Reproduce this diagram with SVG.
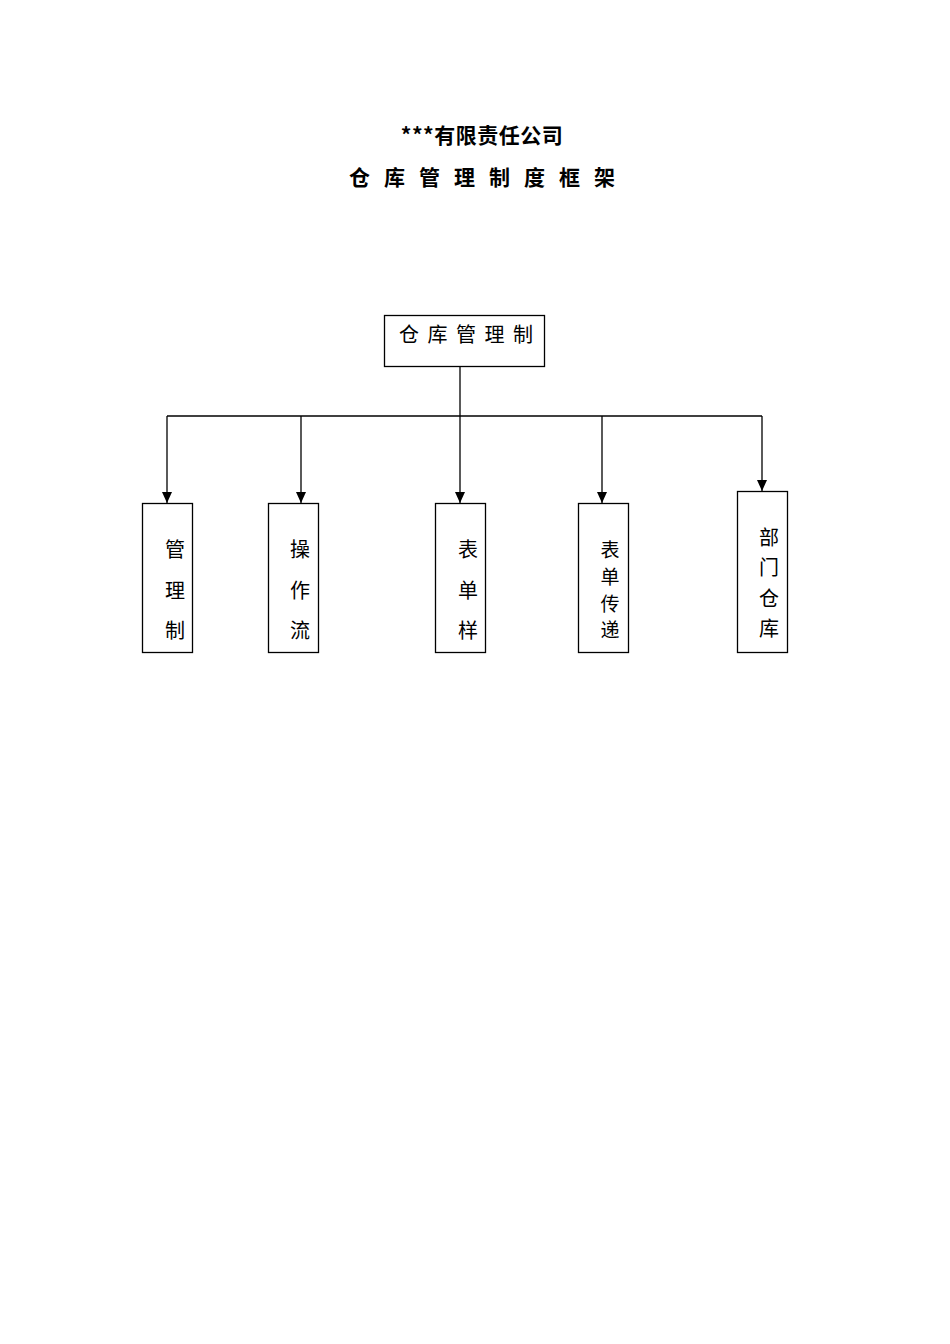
<svg xmlns="http://www.w3.org/2000/svg" width="950" height="1344" viewBox="0 0 950 1344">
<style>
.t{font-family:"Noto Sans CJK SC","Liberation Sans",sans-serif;fill:#000}
.h{font-weight:bold;text-anchor:middle}
.box{fill:#fff;stroke:#000;stroke-width:1.3}
.ln{fill:none;stroke:#000;stroke-width:1.3}
.v{font-size:20px;text-anchor:middle}
.s{font-size:19px}
</style>
<defs>
<marker id="ar" markerWidth="12" markerHeight="10" refX="11" refY="5" orient="auto" markerUnits="userSpaceOnUse" viewBox="0 0 12 10">
<path d="M0,0 L11,5 L0,10 Z" fill="#000"/>
</marker>
</defs>
<rect width="950" height="1344" fill="#fff"/>
<g id="title">
<text class="t h" x="482" y="143" font-size="21" letter-spacing="0.5">***有限责任公司</text>
<text class="t h" x="489" y="185" font-size="21" letter-spacing="14">仓库管理制度框架</text>
</g>
<g id="connectors">
<line class="ln" x1="460" y1="366" x2="460" y2="416"/>
<line class="ln" x1="167" y1="416" x2="762" y2="416"/>
<line class="ln" x1="167" y1="416" x2="167" y2="503" marker-end="url(#ar)"/>
<line class="ln" x1="301" y1="416" x2="301" y2="503" marker-end="url(#ar)"/>
<line class="ln" x1="460" y1="416" x2="460" y2="503" marker-end="url(#ar)"/>
<line class="ln" x1="602" y1="416" x2="602" y2="503" marker-end="url(#ar)"/>
<line class="ln" x1="762" y1="416" x2="762" y2="491" marker-end="url(#ar)"/>
</g>
<g id="root">
<rect class="box" x="384.5" y="315.5" width="160" height="51"/>
<text class="t" x="399" y="342" font-size="20" letter-spacing="8.5">仓库管理制</text>
</g>
<g id="n1">
<rect class="box" x="142.5" y="503.5" width="50" height="149"/>
<text class="t v" x="175" y="557">管</text>
<text class="t v" x="175" y="598">理</text>
<text class="t v" x="175" y="638">制</text>
</g>
<g id="n2">
<rect class="box" x="268.5" y="503.5" width="50" height="149"/>
<text class="t v" x="300" y="557">操</text>
<text class="t v" x="300" y="598">作</text>
<text class="t v" x="300" y="638">流</text>
</g>
<g id="n3">
<rect class="box" x="435.5" y="503.5" width="50" height="149"/>
<text class="t v" x="468" y="557">表</text>
<text class="t v" x="468" y="598">单</text>
<text class="t v" x="468" y="638">样</text>
</g>
<g id="n4">
<rect class="box" x="578.5" y="503.5" width="50" height="149"/>
<text class="t v s" x="610" y="557">表</text>
<text class="t v s" x="610" y="584">单</text>
<text class="t v s" x="610" y="611">传</text>
<text class="t v s" x="610" y="637">递</text>
</g>
<g id="n5">
<rect class="box" x="737.5" y="491.5" width="50" height="161"/>
<text class="t v" x="769" y="545">部</text>
<text class="t v" x="769" y="575">门</text>
<text class="t v" x="769" y="606">仓</text>
<text class="t v" x="769" y="636">库</text>
</g>
</svg>
